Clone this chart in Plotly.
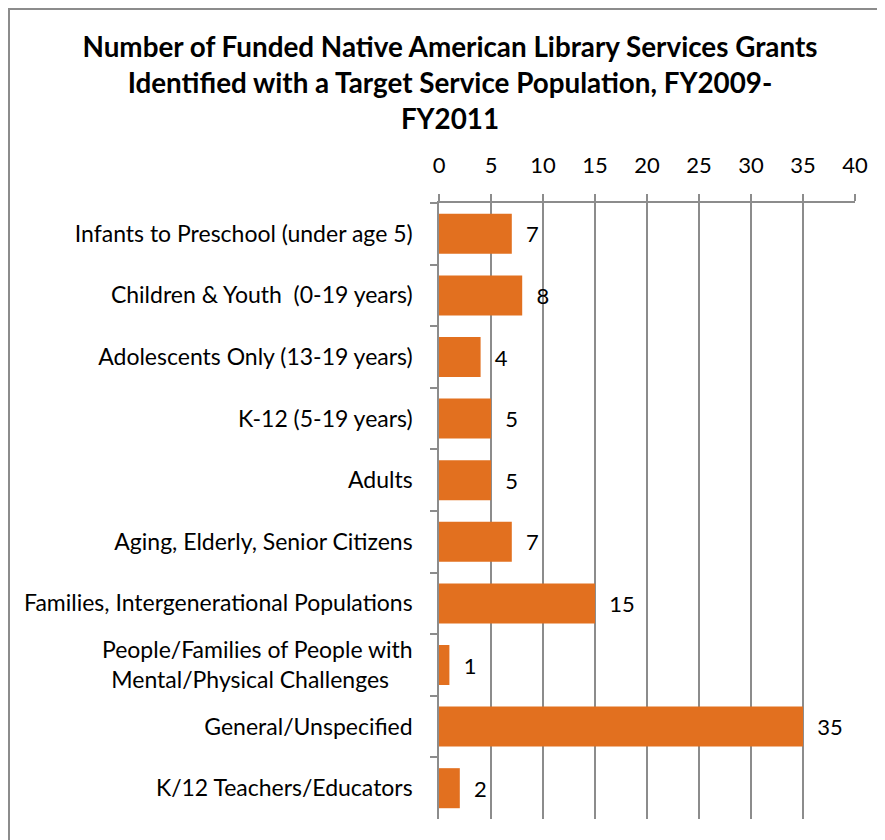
import plotly.graph_objects as go

categories = [
    "Infants to Preschool (under age 5)",
    "Children & Youth  (0-19 years)",
    "Adolescents Only (13-19 years)",
    "K-12 (5-19 years)",
    "Adults",
    "Aging, Elderly, Senior Citizens",
    "Families, Intergenerational Populations",
    "People/Families of People with<br>Mental/Physical Challenges&nbsp;&nbsp;&nbsp;&nbsp;",
    "General/Unspecified",
    "K/12 Teachers/Educators",
]
values = [7, 8, 4, 5, 5, 7, 15, 1, 35, 2]
x_ticks = [0, 5, 10, 15, 20, 25, 30, 35, 40]

# page is offset by the default 8px body margin; positions below are figure px
W, H = 885, 840
L, R, T, B = 431, 38, 195, 29
pw, ph = W - L - R, H - T - B
FONT = "Lato"

fig = go.Figure()
fig.add_trace(go.Bar(
    y=categories, x=values, orientation="h",
    marker=dict(color="#E2701F", line=dict(width=0)),
    text=["\u00a0\u00a0" + str(v) for v in values], textposition="outside",
    textfont=dict(family=FONT, size=22, color="#000000"),
    cliponaxis=False,
))

def px_x(p):
    return (p - L) / pw

def px_y(p):
    return (H - B - p) / ph

border = dict(color="#8c8c8c", width=2)
fig.update_layout(
    width=W, height=H,
    margin=dict(l=L, r=R, t=T, b=B, autoexpand=False),
    paper_bgcolor="white", plot_bgcolor="white",
    showlegend=False,
    bargap=0.35,
    title=dict(
        text="Number of Funded Native American Library Services Grants<br>Identified with a Target Service Population, FY2009-<br>FY2011",
        x=442 / W, xanchor="center", y=1 - 48.5 / H, yanchor="top",
        font=dict(family=FONT, size=27.8, color="#000000", weight="bold"),
    ),
    xaxis=dict(
        side="top", range=[0, 40], tickvals=x_ticks,
        showgrid=True, gridcolor="#8c8c8c", gridwidth=1.5,
        showline=True, linecolor="#8c8c8c", linewidth=1.5,
        ticks="outside", ticklen=7, tickcolor="#8c8c8c", tickwidth=1.5,
        tickfont=dict(family=FONT, size=22, color="#000000"),
        zeroline=False, fixedrange=True,
        ticklabelstandoff=12,
    ),
    yaxis=dict(
        autorange="reversed", type="category",
        showline=True, linecolor="#8c8c8c", linewidth=1.5,
        ticks="outside", ticklen=7, tickcolor="#8c8c8c", tickwidth=1.5,
        tickson="boundaries", showgrid=False,
        tickfont=dict(family=FONT, size=23, color="#000000"),
        ticklabelstandoff=20,
    ),
    shapes=[
        dict(type="line", xref="paper", yref="paper",
             x0=px_x(0), x1=px_x(W + 40), y0=px_y(1), y1=px_y(1),
             line=border, layer="below"),
        dict(type="line", xref="paper", yref="paper",
             x0=px_x(1), x1=px_x(1), y0=px_y(0), y1=px_y(H + 40),
             line=border, layer="below"),
    ],
)

fig.write_html("out.html")
